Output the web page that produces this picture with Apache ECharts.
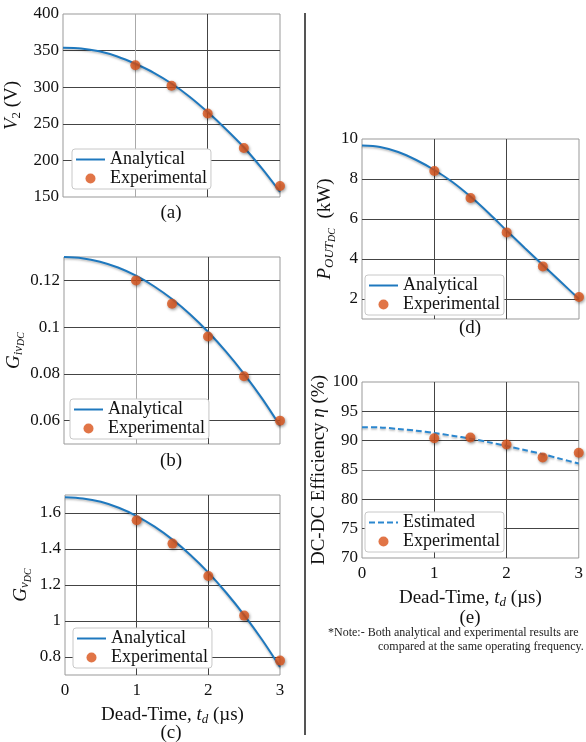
<!DOCTYPE html>
<html>
<head>
<meta charset="utf-8">
<script src="https://cdn.jsdelivr.net/npm/echarts@6/dist/echarts.min.js"></script>
<style>
  html, body { margin: 0; padding: 0; background: #fff; }
  #main { width: 586px; height: 742px; }
</style>
</head>
<body>
<div id="main"></div>
<script>
// dead-time samples (µs)
const tLine = [0, 0.25, 0.5, 0.75, 1, 1.25, 1.5, 1.75, 2, 2.25, 2.5, 2.75, 3];
const tExp = [1, 1.5, 2, 2.5, 3];

// (a) V2 (V)
const v2Analytical = [354, 353, 349, 342, 332, 320, 305, 287, 266, 243, 218, 189, 157];
const v2Experimental = [330, 302, 264, 217, 165];
// (b) G_ivDC
const givAnalytical = [0.130, 0.1295, 0.128, 0.1255, 0.122, 0.1175, 0.112, 0.1055, 0.098, 0.0895, 0.080, 0.0695, 0.0578];
const givExperimental = [0.120, 0.110, 0.096, 0.079, 0.060];
// (c) G_vDC
const gvAnalytical = [1.688, 1.681, 1.662, 1.629, 1.583, 1.524, 1.452, 1.367, 1.269, 1.157, 1.033, 0.896, 0.745];
const gvExperimental = [1.56, 1.43, 1.25, 1.03, 0.78];
// (d) P_OUT_DC (kW)
const poutAnalytical = [9.67, 9.6, 9.35, 8.95, 8.45, 7.85, 7.12, 6.3, 5.42, 4.55, 3.7, 2.85, 2.0];
const poutExperimental = [8.4, 7.05, 5.33, 3.63, 2.1];
// (e) efficiency (%)
const effEstimated = [92.3, 92.25, 92.0, 91.7, 91.3, 90.85, 90.35, 89.75, 89.1, 88.4, 87.7, 86.9, 86.1];
const effExperimental = [90.4, 90.55, 89.35, 87.15, 87.95];

const FONT = '"Liberation Serif", "Times New Roman", serif';
const INK = '#111';
const BLUE = '#1e78be';
const BLUE2 = '#2b87cf';
const ORANGE = '#d95319';
const T = 'rgba(0,0,0,0)';
const G = '#444';

const rich = {
  n: { fontFamily: FONT, fontSize: 19, color: INK },
  i: { fontFamily: FONT, fontSize: 19, fontStyle: 'italic', color: INK },
  s: { fontFamily: FONT, fontSize: 13, fontStyle: 'italic', color: INK, padding: [9, 0, 0, 0] },
  sn: { fontFamily: FONT, fontSize: 13, color: INK, padding: [9, 0, 0, 0] },
  ss: { fontFamily: FONT, fontSize: 10, fontStyle: 'italic', color: INK, padding: [15, 0, 0, 0] }
};

const pairs = (xs, ys) => xs.map((x, k) => [x, ys[k]]);

const grids = [
  { left: 63, top: 14, width: 217, height: 183 },   // a
  { left: 64, top: 257, width: 216, height: 187 },  // b
  { left: 65, top: 495, width: 215, height: 180 },  // c
  { left: 362, top: 139, width: 217, height: 180 }, // d
  { left: 362, top: 382, width: 217, height: 176 }  // e
].map(g => Object.assign(g, { show: true, borderColor: '#999', borderWidth: 1, backgroundColor: 'transparent' }));

const xName = '{n|Dead-Time, }{i|t}{s|d}{n| (µs)}';
const xSplit = [
  [T, '#aaa', G, T], [T, '#aaa', G, T], [T, G, G, T], [T, G, G, T], [T, G, G, T]
];
const xLabels = [false, false, true, false, true];

const xAxes = grids.map((g, i) => ({
  gridIndex: i, type: 'value', min: 0, max: 3, interval: 1,
  axisLine: { show: false }, axisTick: { show: false },
  axisLabel: { show: xLabels[i], margin: 7, fontFamily: FONT, fontSize: 17, color: INK },
  splitLine: { show: true, lineStyle: { color: xSplit[i], width: 1 } },
  name: xLabels[i] ? xName : '', nameLocation: 'middle', nameGap: 29,
  nameTextStyle: { rich }
}));

function yAxis(i, min, max, interval, colors, name, nameGap, show) {
  return {
    gridIndex: i, type: 'value', min, max, interval,
    axisLine: { show: false }, axisTick: { show: false },
    axisLabel: {
      margin: 4, fontFamily: FONT, fontSize: 17, color: INK,
      formatter: v => (show(v) ? String(+v.toFixed(4)) : '')
    },
    splitLine: { show: true, lineStyle: { color: colors, width: 1 } },
    name, nameLocation: 'middle', nameGap, nameTextStyle: { rich }
  };
}

const yAxes = [
  yAxis(0, 150, 400, 50, [T, G, G, G, G, T], '{i|V}{sn|2}{n| (V)}', 40, () => true),
  yAxis(1, 0.05, 0.13, 0.01, [T, G, T, G, T, G, T, G, T], '{i|G}{s|iv}{ss|DC}', 30,
    v => Math.round(v * 100) % 2 === 0),
  yAxis(2, 0.7, 1.7, 0.1, [T, G, T, G, T, G, T, G, T, G, T], '{i|G}{s|v}{ss|DC}', 32,
    v => Math.round(v * 10) % 2 === 0),
  yAxis(3, 1, 10, 1, [T, G, T, G, T, G, T, G, T, T], '{i|P}{s|OUT}{ss|DC}{n|  (kW)}', 22,
    v => Math.round(v) % 2 === 0),
  yAxis(4, 70, 100, 5, [T, G, G, '#777', G, G, T], '{n|DC-DC Efficiency }{i|η}{n| (%)}', 31, () => true)
];

const lineShadow = { shadowColor: 'rgba(0,0,0,0.25)', shadowBlur: 2, shadowOffsetY: 1.5 };
const dotShadow = { shadowColor: 'rgba(0,0,0,0.45)', shadowBlur: 3, shadowOffsetX: 1, shadowOffsetY: 1.5 };

const panels = [
  ['Analytical', v2Analytical, v2Experimental, 'solid'],
  ['Analytical', givAnalytical, givExperimental, 'solid'],
  ['Analytical', gvAnalytical, gvExperimental, 'solid'],
  ['Analytical', poutAnalytical, poutExperimental, 'solid'],
  ['Estimated', effEstimated, effExperimental, [6, 3]]
];

const series = [];
panels.forEach(([lineName, curve, exp, dash], i) => {
  const c = dash === 'solid' ? BLUE : BLUE2;
  series.push({
    type: 'line', name: lineName, xAxisIndex: i, yAxisIndex: i,
    data: pairs(tLine, curve), smooth: 0.3, symbol: 'none',
    lineStyle: Object.assign({ color: c, width: 2, type: dash }, lineShadow),
    itemStyle: { color: c }, z: 2
  });
  series.push({
    type: 'scatter', name: 'Experimental', xAxisIndex: i, yAxisIndex: i,
    data: pairs(tExp, exp), symbolSize: 10,
    itemStyle: Object.assign({ color: ORANGE }, dotShadow), z: 3
  });
});

const legendPos = [[72, 149], [70, 399], [73, 628], [365, 275], [365, 512]];
const legends = legendPos.map(([left, top], i) => ({
  left, top, orient: 'vertical',
  data: [
    { name: panels[i][0], itemStyle: { opacity: 0 } },
    { name: 'Experimental' }
  ],
  itemWidth: 29, itemHeight: 10, itemGap: 0,
  padding: [1, 4, 1, 3],
  backgroundColor: '#fff', borderColor: '#c8c8c8', borderWidth: 1, borderRadius: 3,
  textStyle: { fontFamily: FONT, fontSize: 18, color: INK, lineHeight: 19 }
}));

const captions = [['(a)', 171, 213], ['(b)', 171, 461], ['(c)', 171, 733], ['(d)', 470, 328], ['(e)', 470, 618]];
const graphics = captions.map(([text, x, y]) => ({
  type: 'text', x, y,
  style: { text, fill: INK, font: '19px "Liberation Serif"', align: 'center', verticalAlign: 'middle' }
}));
graphics.push({
  type: 'line', shape: { x1: 305, y1: 13, x2: 305, y2: 735 },
  style: { stroke: '#555', lineWidth: 2 }
});
graphics.push({
  type: 'text', x: 328, y: 633,
  style: { text: '*Note:- Both analytical and experimental results are', fill: '#222',
    font: '12px "Liberation Serif"', align: 'left', verticalAlign: 'middle' }
});
graphics.push({
  type: 'text', x: 378, y: 647,
  style: { text: 'compared at the same operating frequency.', fill: '#222',
    font: '12px "Liberation Serif"', align: 'left', verticalAlign: 'middle' }
});

const chart = echarts.init(document.getElementById('main'), null, { renderer: 'canvas' });
chart.setOption({
  animation: false,
  backgroundColor: '#fff',
  textStyle: { fontFamily: FONT },
  grid: grids,
  xAxis: xAxes,
  yAxis: yAxes,
  legend: legends,
  series,
  graphic: graphics
});
</script>
</body>
</html>
